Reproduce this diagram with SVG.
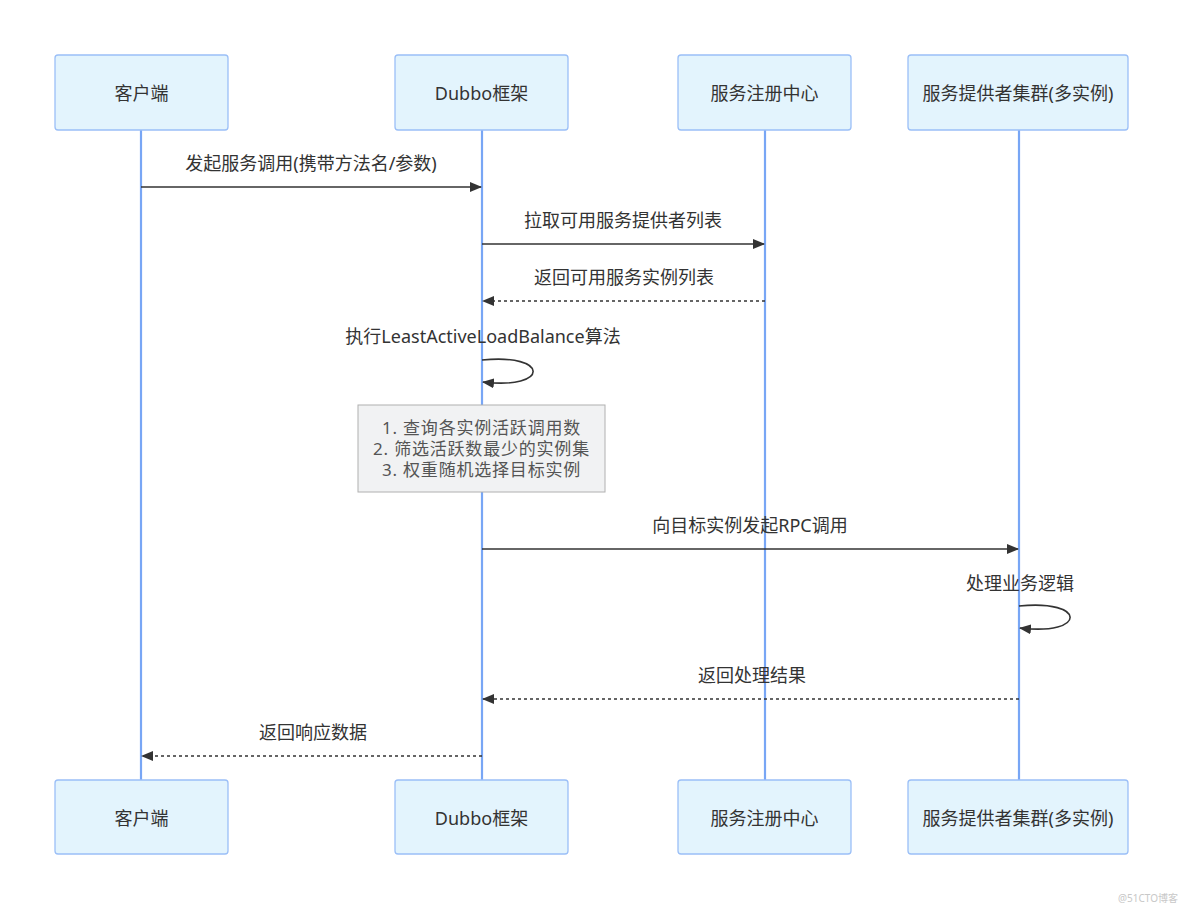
<svg xmlns="http://www.w3.org/2000/svg" width="1184" height="910" viewBox="0 0 1184 910">
<style>
.actor{fill:#e3f4fd;stroke:#9bbff7;stroke-width:1.3}
.atext{font-family:"Noto Sans","Noto Sans CJK SC",sans-serif;font-size:18px;fill:#333;text-anchor:middle;dominant-baseline:central}
.life{stroke:#78a6f5;stroke-width:2.2}
.msg{stroke:#333;stroke-width:1.6;fill:none}
.dash{stroke-dasharray:3 3}
.mtext{font-family:"Noto Sans","Noto Sans CJK SC",sans-serif;font-size:18px;fill:#333;text-anchor:middle}
.note{fill:#f1f2f3;stroke:#b0b0b0;stroke-width:1}
.ntext{font-family:"Noto Sans","Noto Sans CJK SC",sans-serif;font-size:17px;letter-spacing:0.8px;fill:#555;text-anchor:middle}
</style>
<defs>
<marker id="arrow" viewBox="0 0 12 10" refX="11" refY="5" markerWidth="12" markerHeight="10" markerUnits="userSpaceOnUse" orient="auto">
<path d="M0,0 L12,5 L0,10 z" fill="#333"/>
</marker>
</defs>
<rect width="1184" height="910" fill="#fff"/>
<g id="lifelines">
<line class="life" x1="141" y1="130" x2="141" y2="780"/>
<line class="life" x1="482" y1="130" x2="482" y2="780"/>
<line class="life" x1="765" y1="130" x2="765" y2="780"/>
<line class="life" x1="1019" y1="130" x2="1019" y2="780"/>
</g>
<g id="actor-client-top"><rect class="actor" x="55" y="55" width="173" height="75" rx="3"/><text class="atext" x="141.5" y="93">客户端</text></g>
<g id="actor-dubbo-top"><rect class="actor" x="395" y="55" width="173" height="75" rx="3"/><text class="atext" x="481.5" y="93">Dubbo框架</text></g>
<g id="actor-registry-top"><rect class="actor" x="678" y="55" width="173" height="75" rx="3"/><text class="atext" x="764.5" y="93">服务注册中心</text></g>
<g id="actor-provider-top"><rect class="actor" x="908" y="55" width="220" height="75" rx="3"/><text class="atext" x="1018" y="93">服务提供者集群(多实例)</text></g>
<g id="actor-client-bottom"><rect class="actor" x="55" y="780" width="173" height="74" rx="3"/><text class="atext" x="141.5" y="818">客户端</text></g>
<g id="actor-dubbo-bottom"><rect class="actor" x="395" y="780" width="173" height="74" rx="3"/><text class="atext" x="481.5" y="818">Dubbo框架</text></g>
<g id="actor-registry-bottom"><rect class="actor" x="678" y="780" width="173" height="74" rx="3"/><text class="atext" x="764.5" y="818">服务注册中心</text></g>
<g id="actor-provider-bottom"><rect class="actor" x="908" y="780" width="220" height="74" rx="3"/><text class="atext" x="1018" y="818">服务提供者集群(多实例)</text></g>
<g id="note"><rect class="note" x="358" y="405" width="247" height="87"/>
<text class="ntext" x="481.5" y="434">1. 查询各实例活跃调用数</text>
<text class="ntext" x="481.5" y="455">2. 筛选活跃数最少的实例集</text>
<text class="ntext" x="481.5" y="476">3. 权重随机选择目标实例</text>
</g>
<g id="connectors">
<line class="msg" x1="141" y1="187" x2="481" y2="187" marker-end="url(#arrow)"/>
<text class="mtext" x="311" y="170">发起服务调用(携带方法名/参数)</text>
<line class="msg" x1="482" y1="244" x2="764" y2="244" marker-end="url(#arrow)"/>
<text class="mtext" x="623" y="227">拉取可用服务提供者列表</text>
<line class="msg dash" x1="765" y1="301" x2="483" y2="301" marker-end="url(#arrow)"/>
<text class="mtext" x="624" y="284">返回可用服务实例列表</text>
<path class="msg" d="M482,360 C550,353 550,390 483,382" marker-end="url(#arrow)"/>
<text class="mtext" x="483" y="343">执行LeastActiveLoadBalance算法</text>
<line class="msg" x1="482" y1="549" x2="1018" y2="549" marker-end="url(#arrow)"/>
<text class="mtext" x="750" y="532">向目标实例发起RPC调用</text>
<path class="msg" d="M1019,606 C1087,599 1087,636 1020,628" marker-end="url(#arrow)"/>
<text class="mtext" x="1020" y="590">处理业务逻辑</text>
<line class="msg dash" x1="1019" y1="699" x2="483" y2="699" marker-end="url(#arrow)"/>
<text class="mtext" x="752" y="682">返回处理结果</text>
<line class="msg dash" x1="482" y1="756" x2="142" y2="756" marker-end="url(#arrow)"/>
<text class="mtext" x="313" y="739">返回响应数据</text>
</g>
<text x="1178" y="902" font-family="Noto Sans, Noto Sans CJK SC, sans-serif" font-size="10" fill="#c8c8c8" text-anchor="end">@51CTO博客</text>
</svg>
